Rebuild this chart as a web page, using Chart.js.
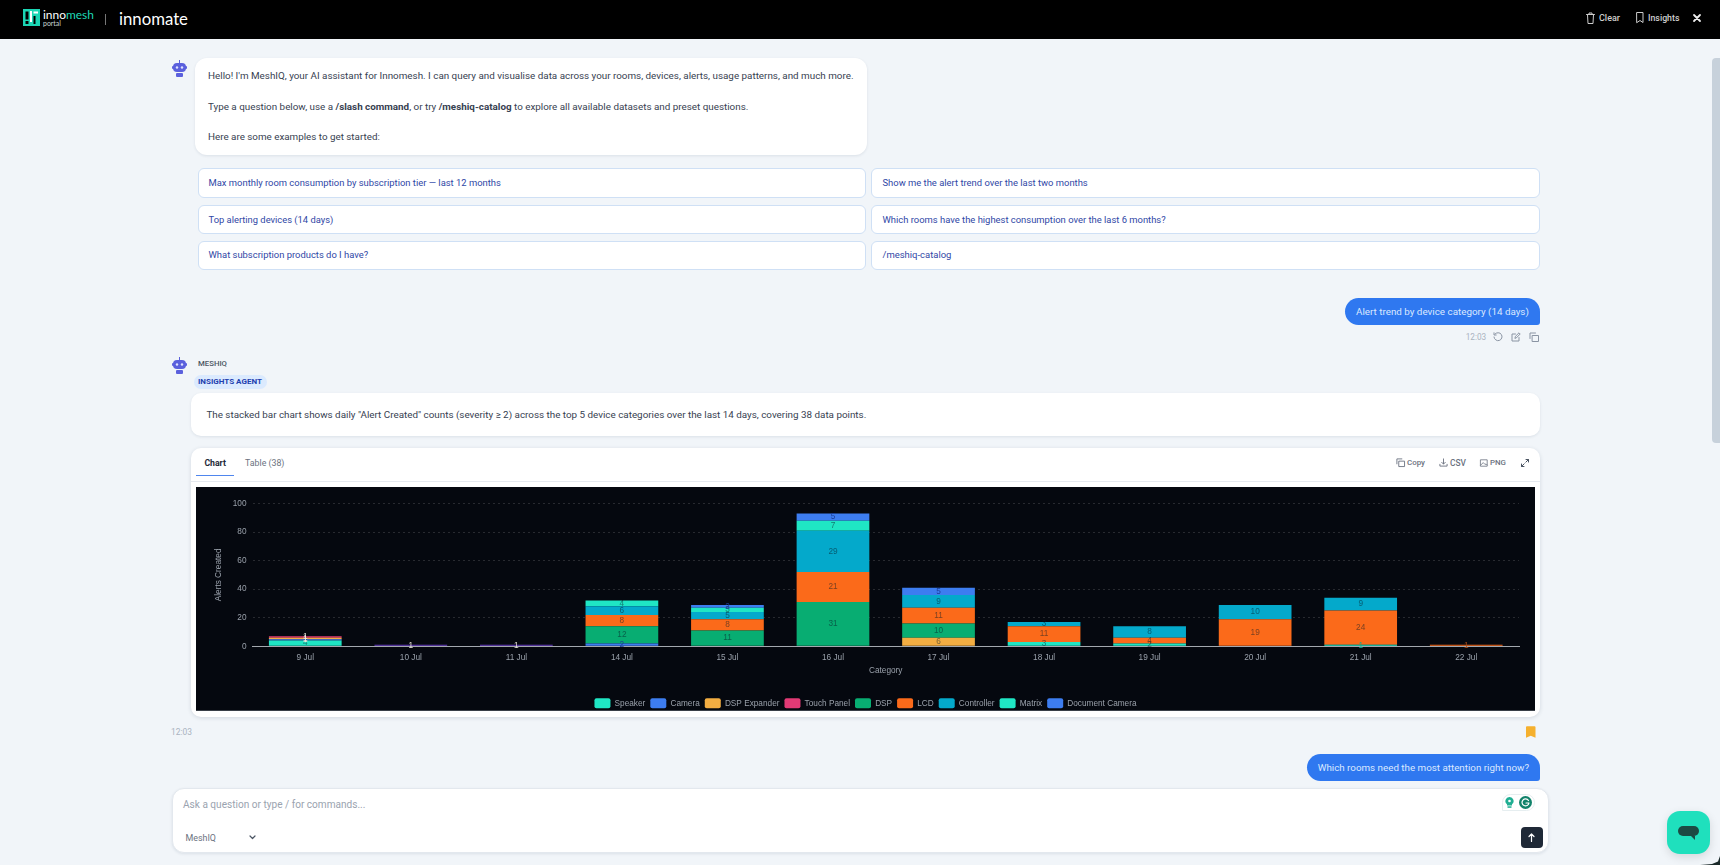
<!DOCTYPE html>
<html><head><meta charset="utf-8">
<script src="https://cdn.jsdelivr.net/npm/chart.js@4/dist/chart.umd.min.js"></script>
<style>
html,body{margin:0;padding:0;width:1720px;height:865px;overflow:hidden;background:#f1f5f9;font-family:Roboto,sans-serif}
.b{position:absolute;box-sizing:border-box}
.t{position:absolute;white-space:nowrap;transform:translateY(-50%);line-height:1;font-size:11px}
svg{position:absolute;overflow:visible}
#chartBox{position:absolute;left:196px;top:487px;width:1339px;height:224px;background:#05080f;border-bottom:1px solid #3a4048;box-sizing:border-box;overflow:hidden}
canvas{display:block}
</style></head><body>
<div id="page"></div>
<div id="chartBox"><canvas id="c" width="1339" height="224" style="width:1339px;height:224px"></canvas></div>
<script>
const days=['9 Jul','10 Jul','11 Jul','14 Jul','15 Jul','16 Jul','17 Jul','18 Jul','19 Jul','20 Jul','21 Jul','22 Jul'];
const seriesNames=['Speaker','Camera','DSP Expander','Touch Panel','DSP','LCD','Controller','Matrix','Document Camera'];
const speaker       =[4,null,null,null,null,null,null,3,2,null,1,null];
const camera        =[1,1,1,2,null,null,null,null,null,null,null,null];
const dspExpander   =[1,null,null,null,null,null,6,null,null,null,null,null];
const touchPanel    =[1,null,null,null,null,null,null,null,null,null,null,null];
const dsp           =[null,null,null,12,11,31,10,null,null,null,null,null];
const lcd           =[null,null,null,8,8,21,11,11,4,19,24,1];
const controller    =[null,null,null,6,5,29,9,3,8,10,9,null];
const matrix        =[null,null,null,4,3,7,null,null,null,null,null,null];
const documentCamera=[null,null,null,null,2,5,5,null,null,null,null,null];
const seriesValues=[speaker,camera,dspExpander,touchPanel,dsp,lcd,controller,matrix,documentCamera];
const seriesColours=['#1fe6c4','#3d7df0','#f2ad42','#e23a75','#08ad72','#fb6a1a','#04a9cb','#1fe6c4','#3d7df0'];
const yTicks=[0,20,40,60,80,100];

/* page chrome */
const page=document.getElementById('page');
function box(x,y,x2,y2,css){const d=document.createElement('div');d.className='b';d.style.cssText=`left:${x}px;top:${y}px;width:${x2-x}px;height:${y2-y}px;`+css;page.appendChild(d);return d}
const fits=[];
function T(x,cy,w,html,css){const s=document.createElement('span');s.className='t';s.style.cssText=`left:${x}px;top:${cy}px;`+(css||'');s.innerHTML=html;page.appendChild(s);fits.push([s,w]);return s}
function S(x,y,w,h,vb,body,css){const n=document.createElementNS('http://www.w3.org/2000/svg','svg');n.setAttribute('viewBox',vb);n.setAttribute('width',w);n.setAttribute('height',h);n.style.cssText=`left:${x}px;top:${y}px;`+(css||'');n.innerHTML=body;page.appendChild(n)}
const shadow='box-shadow:0 1px 3px rgba(30,50,80,.10);';
box(0,0,1720,39,'background:#000');
S(23,9,17,17,'0 0 17 17','<rect width="17" height="17" fill="#1bd6b4"/><rect x="2.5" y="2.5" width="3" height="8" fill="#000"/><rect x="7" y="2" width="2" height="11" fill="#fff"/><rect x="10.5" y="2.5" width="4.5" height="2" fill="#fff"/><rect x="10.5" y="7" width="2" height="8" fill="#000"/><rect x="2.5" y="12" width="3" height="3" fill="#000"/>');
T(43,14.5,51,'inno<span style="color:#1fd8b8">mesh</span>','color:#fff;font-family:Lato,sans-serif');
T(43,23,18,'portal','color:#cbd5d5;font-family:Lato,sans-serif');
box(105,14,106,25,'background:#777');
T(119,19,69,'innomate','color:#fff;font-family:Lato,sans-serif;font-weight:400');
const stroke='fill="none" stroke-linecap="round" stroke-linejoin="round"';
S(1586,12,9,12,'0 0 9 12',`<path ${stroke} stroke="#ccc" stroke-width="1" d="M.5 2.5h8M3 2.500V1h3v1.500M1.500 2.500l.5 9h5l.5-9"/>`);
T(1599,18,21,'Clear','color:#cfcfcf;font-weight:500');
S(1636,12,8,11,'0 0 8 11',`<path ${stroke} stroke="#ccc" stroke-width="1" d="M1 .5h6v10l-3-2-3 2z"/>`);
T(1648,18,31.500,'Insights','color:#cfcfcf;font-weight:500');
S(1693,14,8,8,'0 0 8 8',`<path ${stroke} stroke="#eee" stroke-width="1.800" d="M1 1l6 6M7 1l-6 6"/>`);
box(1712,58,1720,443,'background:#c7d1db;border-radius:4px 0 0 4px');

function bot(x,y){S(x,y,15,17,'0 0 15 17','<rect x="7" y="0" width="1" height="3" fill="#5b60dd"/><rect x="1" y="3" width="13" height="9" rx="4" fill="#5b60dd"/><rect x="0" y="6" width="15" height="3" rx="1" fill="#5b60dd"/><circle cx="5" cy="7.500" r="1.200" fill="#dfe2ff"/><circle cx="10" cy="7.500" r="1.200" fill="#dfe2ff"/><rect x="4" y="13" width="7" height="4" rx="1" fill="#5b60dd"/>')}
bot(172,60);
box(194.500,58,867,155,'background:#fff;border-radius:12px;'+shadow);
T(208,76,646,"Hello! I'm MeshIQ, your AI assistant for Innomesh. I can query and visualise data across your rooms, devices, alerts, usage patterns, and much more.",'color:#374151');
T(208,106.700,541,'Type a question below, use a <b>/slash command</b>, or try <b>/meshiq-catalog</b> to explore all available datasets and preset questions.','color:#374151');
T(208,137,172,'Here are some examples to get started:','color:#374151');
const sug='background:#fff;border:1px solid #cfe0f5;border-radius:6px;';
const sc='color:#2f47a6';
[[168,198],[204.500,234],[240.500,270]].forEach(r=>{box(197.500,r[0],865.500,r[1],sug);box(871,r[0],1540,r[1],sug)});
T(208.500,183,293,'Max monthly room consumption by subscription tier — last 12 months',sc);
T(208.500,219.500,125,'Top alerting devices (14 days)',sc);
T(208.500,255,160,'What subscription products do I have?',sc);
T(882.500,183,205.500,'Show me the alert trend over the last two months',sc);
T(882.500,219.500,283.500,'Which rooms have the highest consumption over the last 6 months?',sc);
T(882.500,255,69,'/meshiq-catalog',sc);

box(1345.300,298,1540,325.300,'background:#2f78f0;border-radius:14px 14px 3px 14px');
T(1356,311.700,173,'Alert trend by device category (14 days)','color:#dbe8ff');
T(1465.700,337,20.500,'12:03','color:#a9b3bf');
const ic='stroke="#8a94a3" stroke-width="1"';
S(1493,332,10,10,'0 0 10 10',`<path ${stroke} ${ic} d="M2 2a4 4 0 1 1-1 3M1 .8V3h2.200"/>`);
S(1511,332,10,10,'0 0 10 10',`<path ${stroke} ${ic} d="M8 5.500V9H1V2h3.500M4 6l.4-1.600L8 .8l1.200 1.200L5.600 5.600z"/>`);
S(1529,332,10,10,'0 0 10 10',`<path ${stroke} ${ic} d="M3.500 3.500h6v6h-6zM1 6.500V1h5.500"/>`);

bot(172,357);
T(198,364,29,'MESHIQ','color:#4b5563;font-weight:500');
box(194,375,267,389,'background:#dbeafe;border-radius:7px');
T(198,381.800,64,'INSIGHTS AGENT','color:#1e40af;font-weight:700');
box(191,393,1540,436,'background:#fff;border-radius:10px;'+shadow);
T(206.400,415,661.500,'The stacked bar chart shows daily "Alert Created" counts (severity ≥ 2) across the top 5 device categories over the last 14 days, covering 38 data points.','color:#374151');
box(191,448,1540,717,'background:#fff;border-radius:10px;box-shadow:0 1px 4px rgba(30,50,80,.14)');
box(191,481,1540,482,'background:#e5e9ef');
T(204.400,462.500,21.600,'Chart','color:#1f2937;font-weight:700');
box(196,474.500,234,476,'background:#4f86ee');
T(245,462.500,39.500,'Table (38)','color:#6b7280');
const ic2='stroke="#6b7280" stroke-width="1"';
S(1396,458,9,9,'0 0 10 10',`<path ${stroke} ${ic2} d="M3.500 3.500h6v6h-6zM1 6.500V1h5.500"/>`);
T(1407,463,18,'Copy','color:#6b7280;font-weight:500');
S(1439,458,9,9,'0 0 10 10',`<path ${stroke} ${ic2} d="M5 1v5.500M3 4.800L5 6.800l2-2M1 7v2h8V7"/>`);
T(1450,463,16,'CSV','color:#6b7280;font-weight:500');
S(1480,459,8,8,'0 0 10 10',`<path ${stroke} ${ic2} d="M1 1h8v8H1zM1 7.500l3-3 2.500 2.500 1-1 1.500 1.500"/>`);
T(1490,463,16,'PNG','color:#6b7280;font-weight:500');
S(1521,459,8,8,'0 0 8 8',`<path ${stroke} stroke="#4b5563" stroke-width="1" d="M5 .5h2.500V3M7.500.5L4.800 3.200M3 7.500H.5V5M.5 7.500l2.700-2.700"/>`);

T(171,732,21,'12:03','color:#a9b3bf');
S(1526,726,9.500,12,'0 0 10 12','<path fill="#f5b02e" d="M1 0h8a1 1 0 0 1 1 1v11l-5-2-5 2V1a1 1 0 0 1 1-1z"/>');
box(1306.700,754,1540,781.300,'background:#2f78f0;border-radius:14px 14px 3px 14px');
T(1317.700,767.700,211.500,'Which rooms need the most attention right now?','color:#dbe8ff');

box(171.500,788,1548.500,853,'background:#fff;border:1px solid #e3e8ee;border-radius:12px;'+shadow);
T(183,805,182.500,'Ask a question or type / for commands...','color:#9aa3af');
T(185.500,837.700,30.500,'MeshIQ','color:#6b7280');
S(249,835,7,5,'0 0 7 5',`<path ${stroke} stroke="#4b5563" stroke-width="1.200" d="M1 1l2.500 2.500L6 1"/>`);
box(1502,794,1535,811,'background:#fff;border:1px solid #e6eef0;border-radius:9px 9px 9px 0');
S(1505,797,9,11,'0 0 9 11','<path fill="#1fae92" d="M4.500 0a4 4 0 0 1 2.500 7.200V8.500H2V7.200A4 4 0 0 1 4.500 0z"/><circle cx="4.500" cy="4" r="1.300" fill="#fff"/><rect x="2.500" y="9.300" width="4" height="1.500" fill="#1fae92"/>');
S(1519,796,13,13,'0 0 13 13',`<circle cx="6.500" cy="6.500" r="6.500" fill="#11826a"/><path ${stroke} stroke="#fff" stroke-width="1.200" d="M9.500 4.500a3.500 3.500 0 1 0 .5 2.500H7"/>`);
box(1521,826.700,1542.500,848,'background:#1f2937;border-radius:4px');
S(1528,833,7,9,'0 0 7 9',`<path ${stroke} stroke="#fff" stroke-width="1.200" d="M3.500 8.500V1M1 3.500L3.500 1 6 3.500"/>`);
box(1666.700,811,1710,854,'background:#1fe0bd;border-radius:13px;box-shadow:0 3px 10px rgba(0,0,0,.12)');
S(1678,826,21,14,'0 0 21 14','<rect width="21" height="10" rx="5" fill="#1c4a43"/><path fill="#1c4a43" d="M13 10h4v4z"/>');
box(1700,856,1720,865,'background:#1b2a2a;clip-path:polygon(100% 0,100% 100%,0 100%,0 100%,60% 90%,90% 60%)');

fits.forEach(([s,w])=>{const c=s.getBoundingClientRect().width;s.style.fontSize=(11*w/c)+'px'});

/* chart */
const chartFont={family:'"Liberation Sans", sans-serif',size:8.25};
const accentDays=['10 Jul','11 Jul'];
const fill=(colour,name)=>ctx=>(name==='Camera'&&accentDays.includes(days[ctx.dataIndex]))?'#6a3fc4':colour;
function labelColour(name,v){
  if(v===1&&['Camera','DSP Expander','Touch Panel'].includes(name))return 'rgba(240,235,225,.95)';
  if(v===1)return name==='LCD'?'#a24a18':'#12a88c';
  if(name==='Camera'||name==='Document Camera')return '#1e3f9a';
  return 'rgba(10,30,40,.55)';
}
const valueLabels={id:'valueLabels',afterDatasetsDraw(chart){
  const g=chart.ctx;g.save();g.font=`${chartFont.size}px ${chartFont.family}`;g.textAlign='center';g.textBaseline='middle';
  chart.data.datasets.forEach((ds,i)=>{chart.getDatasetMeta(i).data.forEach((el,j)=>{
    const v=ds.data[j];if(v==null)return;
    g.fillStyle=labelColour(ds.label,v);
    g.fillText(String(v),el.x,(el.y+el.base)/2);
  })});
  g.restore();
}};
new Chart(document.getElementById('c'),{type:'bar',plugins:[valueLabels],
 data:{labels:days,datasets:seriesNames.map((n,i)=>({label:n,data:seriesValues[i],backgroundColor:fill(seriesColours[i],n),borderWidth:0,categoryPercentage:1,barPercentage:.689}))},
 options:{responsive:false,animation:false,devicePixelRatio:1,
  layout:{padding:{left:16,right:16,top:16.500,bottom:-7.300}},
  plugins:{tooltip:{enabled:false},title:{display:false},
   legend:{position:'bottom',labels:{boxWidth:16,boxHeight:10,useBorderRadius:true,borderRadius:2,padding:5,color:'#9aa1ab',font:chartFont}}},
  scales:{
   x:{stacked:true,afterFit:s=>{s.height=47},grid:{display:false,drawTicks:false},border:{color:'#a3a8ae',width:1},
      ticks:{color:'#9aa1ab',padding:6,font:chartFont,maxRotation:0},
      title:{display:true,text:'Category',color:'#9aa1ab',font:chartFont,padding:{top:2,bottom:18}}},
   y:{stacked:true,min:yTicks[0],max:yTicks[yTicks.length-1],afterFit:s=>{s.width=40.500},afterBuildTicks:s=>{s.ticks=yTicks.map(v=>({value:v}))},
      grid:{color:'rgba(255,255,255,.14)',drawTicks:false},border:{display:false,dash:[2,3]},
      ticks:{color:'#9aa1ab',padding:6,font:chartFont},
      title:{display:true,text:'Alerts Created',color:'#9aa1ab',font:chartFont,padding:{top:2,bottom:2}}}
  }}});
</script></body></html>
